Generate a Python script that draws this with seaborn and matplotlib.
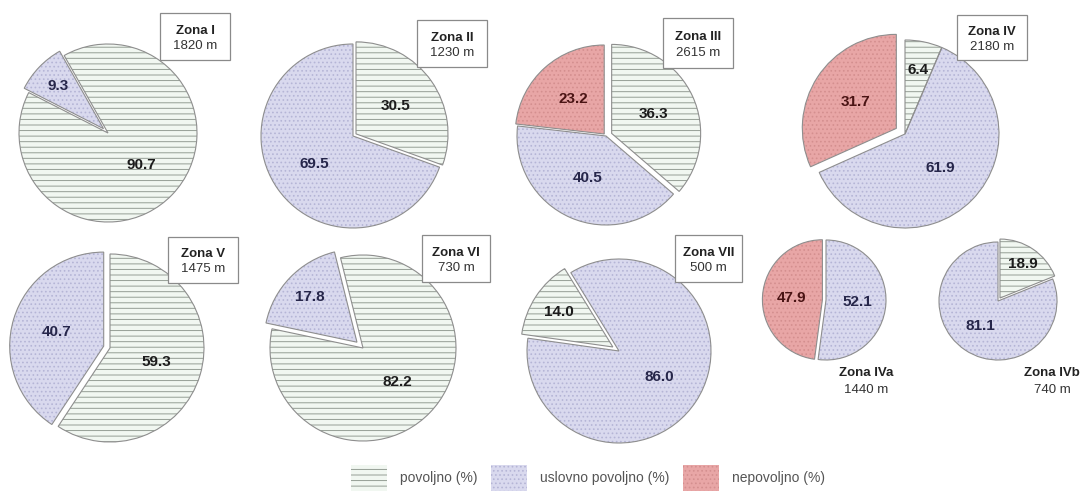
import matplotlib
matplotlib.use("Agg")
import matplotlib.pyplot as plt
import seaborn as sns
import numpy as np
from matplotlib.patches import Rectangle, Wedge, Patch

# ---- data -------------------------------------------------------------
zones = ["Zona I", "Zona II", "Zona III", "Zona IV", "Zona V",
         "Zona VI", "Zona VII", "Zona IVa", "Zona IVb"]
lengths = ["1820 m", "1230 m", "2615 m", "2180 m", "1475 m",
           "730 m", "500 m", "1440 m", "740 m"]
povoljno = [90.7, 30.5, 36.3, 6.4, 59.3, 82.2, 14.0, 0.0, 18.9]
uslovno = [9.3, 69.5, 40.5, 61.9, 40.7, 17.8, 86.0, 52.1, 81.1]
nepovoljno = [0.0, 0.0, 23.2, 31.7, 0.0, 0.0, 0.0, 47.9, 0.0]
categories = ["povoljno (%)", "uslovno povoljno (%)", "nepovoljno (%)"]

# ---- layout (pixels, origin top-left) ----------------------------------
W, H = 1087, 491
centers = [(108, 133), (353, 136), (606, 136), (905, 134), (110, 348),
           (363, 348), (619, 351), (826, 300), (998, 301)]
radii = [89, 92, 89, 94, 94, 93, 92, 60, 59]
start_angles = [119.5, 90, 90, 90, 90, 104, 172, 90, 90]
# explode fraction of the radius per category (povoljno, uslovno, nepovoljno)
explodes = [(0, 0.07, 0), (0.04, 0, 0), (0.07, 0, 0.03), (0, 0, 0.11),
            (0, 0.07, 0), (0, 0.09, 0), (0.08, 0, 0), (0, 0, 0.06),
            (0.06, 0, 0)]
# title boxes: x0, y0, x1, y1 (None -> plain caption below pie)
boxes = [(160, 13, 230, 60), (417, 20, 487, 67), (663, 18, 733, 68),
         (957, 15, 1027, 60), (168, 237, 238, 283), (422, 235, 490, 282),
         (675, 235, 742, 282), None, None]
captions = [None] * 7 + [(866, 373), (1052, 373)]

# ---- style ------------------------------------------------------------
sns.set_theme(style="white")
plt.rcParams["font.family"] = ["Liberation Sans", "DejaVu Sans"]
plt.rcParams["hatch.linewidth"] = 0.7

face = ["#f1f7f1", "#d9d9ee", "#e8a6a6"]
hatch_col = ["#959e95", "#b5b5d6", "#d48f8f"]
hatches = ["---", "....", "...."]
text_col = ["#1c1c1c", "#26264a", "#4a1414"]
edge = "#8e8e8e"

fig = plt.figure(figsize=(W / 100, H / 100), dpi=100)
ax = fig.add_axes([0, 0, 1, 1])

for i in range(len(zones)):
    vals = [povoljno[i], uslovno[i], nepovoljno[i]]
    keep = [k for k in range(3) if vals[k] > 0]
    cx, cy = centers[i]
    r = radii[i]
    wedges, _ = ax.pie(
        [vals[k] for k in keep],
        colors=[face[k] for k in keep],
        explode=[explodes[i][k] * r for k in keep],
        startangle=start_angles[i], counterclock=False,
        center=(cx, H - cy), radius=r, frame=True,
        wedgeprops=dict(linewidth=0),
    )
    for w, k in zip(wedges, keep):
        w.set_hatch(hatches[k])
        w.set_edgecolor(hatch_col[k])
        w.set_linewidth(0)
        ax.add_patch(Wedge(w.center, w.r, w.theta1, w.theta2, fill=False,
                           edgecolor=edge, linewidth=0.8))
        mid = np.deg2rad((w.theta1 + w.theta2) / 2)
        d = 0.70 if vals[k] < 20 else 0.52
        ax.text(w.center[0] + d * w.r * np.cos(mid),
                w.center[1] + d * w.r * np.sin(mid),
                f"{vals[k]:.1f}", ha="center", va="center",
                fontsize=11, fontweight="bold", color=text_col[k])

    if boxes[i] is not None:
        x0, y0, x1, y1 = boxes[i]
        ax.add_patch(Rectangle((x0, H - y1), x1 - x0, y1 - y0,
                               facecolor="white", edgecolor="#8a8a8a",
                               linewidth=0.9, zorder=3))
        tx = (x0 + x1) / 2
        ty0, ty1 = y0 + (y1 - y0) * 0.38, y0 + (y1 - y0) * 0.7
    else:
        tx, ty0 = captions[i]
        ty1 = ty0 + 17
    ax.text(tx, H - ty0, zones[i], ha="center", va="center", fontsize=9.5,
            fontweight="bold", color="#222222", zorder=4)
    ax.text(tx, H - ty1, lengths[i], ha="center", va="center", fontsize=9.5,
            color="#333333", zorder=4)

ax.set_xlim(0, W)
ax.set_ylim(0, H)
ax.set_axis_off()

handles = [Patch(facecolor=face[k], edgecolor=hatch_col[k], hatch=hatches[k],
                 linewidth=0, label=categories[k]) for k in range(3)]
ax.legend(handles=handles, loc="center", ncol=3,
          bbox_to_anchor=(588 / W, 1 - 478 / H), frameon=False,
          fontsize=10, labelcolor="#555555", handlelength=2.6,
          handleheight=2.5, columnspacing=1.0, handletextpad=0.9,
          borderaxespad=0)

fig.savefig("out.png", dpi=100)
